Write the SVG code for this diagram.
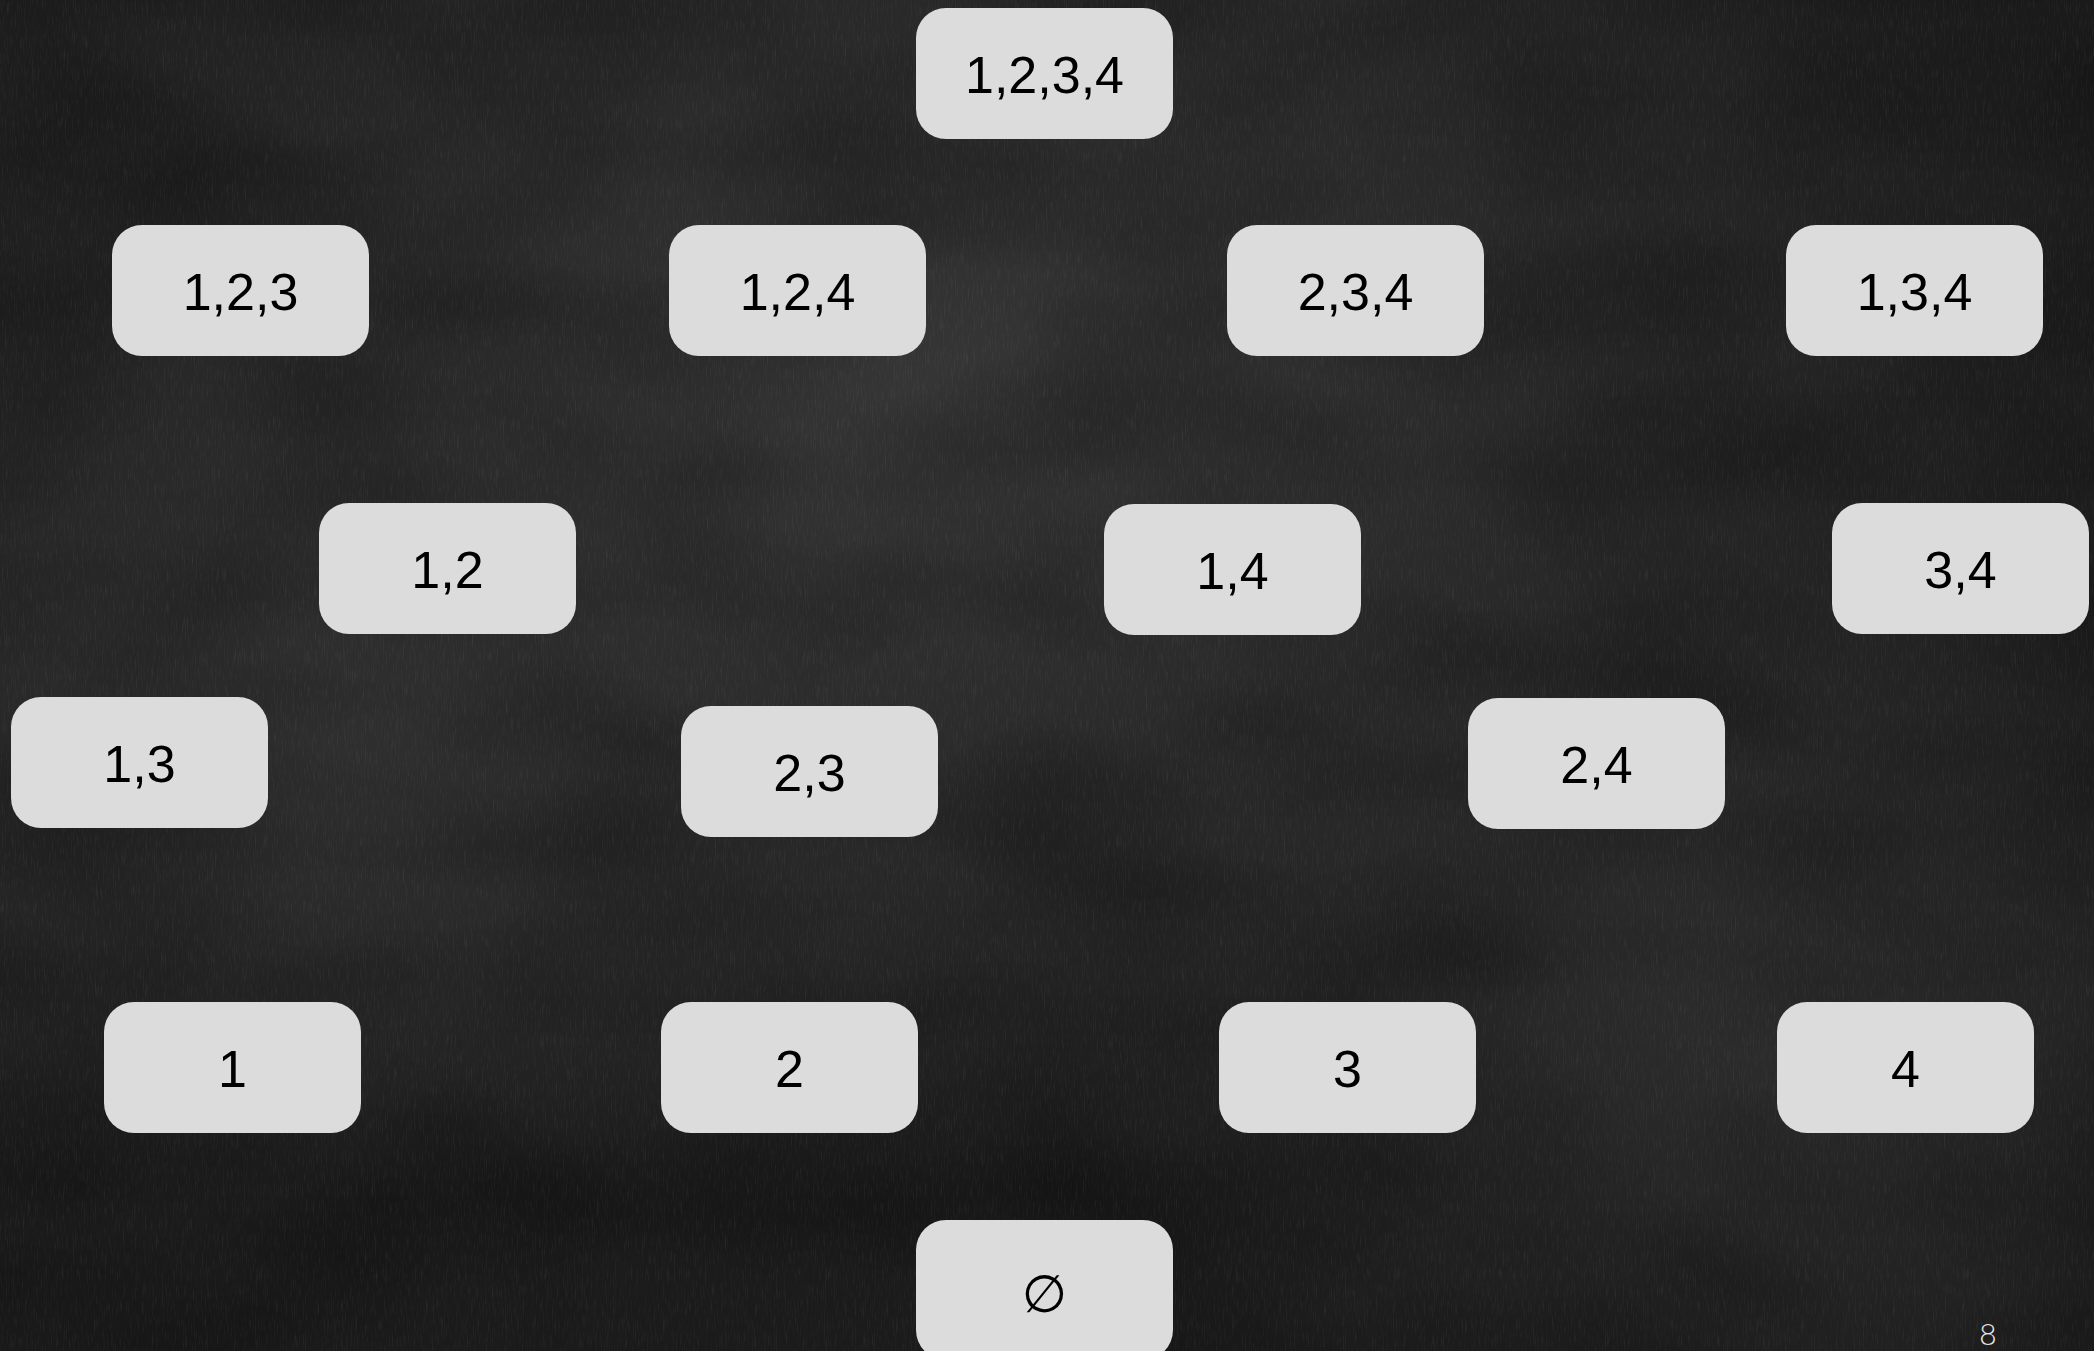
<svg xmlns="http://www.w3.org/2000/svg" width="2094" height="1351" viewBox="0 0 2094 1351">
  <style>
    .box { fill: #dcdcdc; }
    .lbl { font-family: "Liberation Sans", Arial, "DejaVu Sans", sans-serif; font-size: 52px; fill: #000; text-anchor: middle; }
    .pg { font-family: Lato, "Open Sans", "Liberation Sans", sans-serif; font-weight: 300; font-size: 30px; fill: #e6e6e6; text-anchor: middle; }
  </style>
  <defs>
    <radialGradient id="glow1" cx="0.45" cy="0.3" r="0.6">
      <stop offset="0" stop-color="#363636"/>
      <stop offset="1" stop-color="#363636" stop-opacity="0"/>
    </radialGradient>
    <radialGradient id="glow2" cx="0.15" cy="0.55" r="0.35">
      <stop offset="0" stop-color="#2f2f2f"/>
      <stop offset="1" stop-color="#2f2f2f" stop-opacity="0"/>
    </radialGradient>
    <radialGradient id="glow3" cx="0.85" cy="0.75" r="0.35">
      <stop offset="0" stop-color="#2d2d2d"/>
      <stop offset="1" stop-color="#2d2d2d" stop-opacity="0"/>
    </radialGradient>
    <filter id="chalk" x="0" y="0" width="100%" height="100%">
      <feTurbulence type="fractalNoise" baseFrequency="0.9 0.06" numOctaves="3" seed="7" result="n"/>
      <feColorMatrix type="matrix" values="0 0 0 0 1  0 0 0 0 1  0 0 0 0 1  0.9 0 0 0 -0.45"/>
    </filter>
    <filter id="dark" x="0" y="0" width="100%" height="100%">
      <feTurbulence type="fractalNoise" baseFrequency="0.004 0.008" numOctaves="2" seed="3"/>
      <feColorMatrix type="matrix" values="0 0 0 0 0  0 0 0 0 0  0 0 0 0 0  0.8 0 0 0 -0.3"/>
    </filter>
  </defs>

  <g id="background">
    <rect width="2094" height="1351" fill="#1b1b1b"/>
    <rect width="2094" height="1351" fill="url(#glow1)"/>
    <rect width="2094" height="1351" fill="url(#glow2)"/>
    <rect width="2094" height="1351" fill="url(#glow3)"/>
    <rect width="2094" height="1351" filter="url(#dark)" opacity="0.6"/>
    <rect width="2094" height="1351" filter="url(#chalk)" opacity="0.16"/>
  </g>

  <g id="connectors"/>

  <g id="n1234" transform="translate(916,8)"><rect class="box" width="257" height="131" rx="30"/><text class="lbl" x="128.5" y="85">1,2,3,4</text></g>

  <g id="n123" transform="translate(112,225)"><rect class="box" width="257" height="131" rx="30"/><text class="lbl" x="128.5" y="85">1,2,3</text></g>
  <g id="n124" transform="translate(669,225)"><rect class="box" width="257" height="131" rx="30"/><text class="lbl" x="128.5" y="85">1,2,4</text></g>
  <g id="n234" transform="translate(1227,225)"><rect class="box" width="257" height="131" rx="30"/><text class="lbl" x="128.5" y="85">2,3,4</text></g>
  <g id="n134" transform="translate(1786,225)"><rect class="box" width="257" height="131" rx="30"/><text class="lbl" x="128.5" y="85">1,3,4</text></g>

  <g id="n12" transform="translate(319,503)"><rect class="box" width="257" height="131" rx="30"/><text class="lbl" x="128.5" y="85">1,2</text></g>
  <g id="n14" transform="translate(1104,504)"><rect class="box" width="257" height="131" rx="30"/><text class="lbl" x="128.5" y="85">1,4</text></g>
  <g id="n34" transform="translate(1832,503)"><rect class="box" width="257" height="131" rx="30"/><text class="lbl" x="128.5" y="85">3,4</text></g>

  <g id="n13" transform="translate(11,697)"><rect class="box" width="257" height="131" rx="30"/><text class="lbl" x="128.5" y="85">1,3</text></g>
  <g id="n23" transform="translate(681,706)"><rect class="box" width="257" height="131" rx="30"/><text class="lbl" x="128.5" y="85">2,3</text></g>
  <g id="n24" transform="translate(1468,698)"><rect class="box" width="257" height="131" rx="30"/><text class="lbl" x="128.5" y="85">2,4</text></g>

  <g id="n1" transform="translate(104,1002)"><rect class="box" width="257" height="131" rx="30"/><text class="lbl" x="128.5" y="85">1</text></g>
  <g id="n2" transform="translate(661,1002)"><rect class="box" width="257" height="131" rx="30"/><text class="lbl" x="128.5" y="85">2</text></g>
  <g id="n3" transform="translate(1219,1002)"><rect class="box" width="257" height="131" rx="30"/><text class="lbl" x="128.5" y="85">3</text></g>
  <g id="n4" transform="translate(1777,1002)"><rect class="box" width="257" height="131" rx="30"/><text class="lbl" x="128.5" y="85">4</text></g>

  <g id="nempty" transform="translate(916,1220)"><rect class="box" width="257" height="140" rx="30"/><text class="lbl" x="128.5" y="92">∅</text></g>

  <text class="pg" x="1988" y="1345">8</text>
</svg>
